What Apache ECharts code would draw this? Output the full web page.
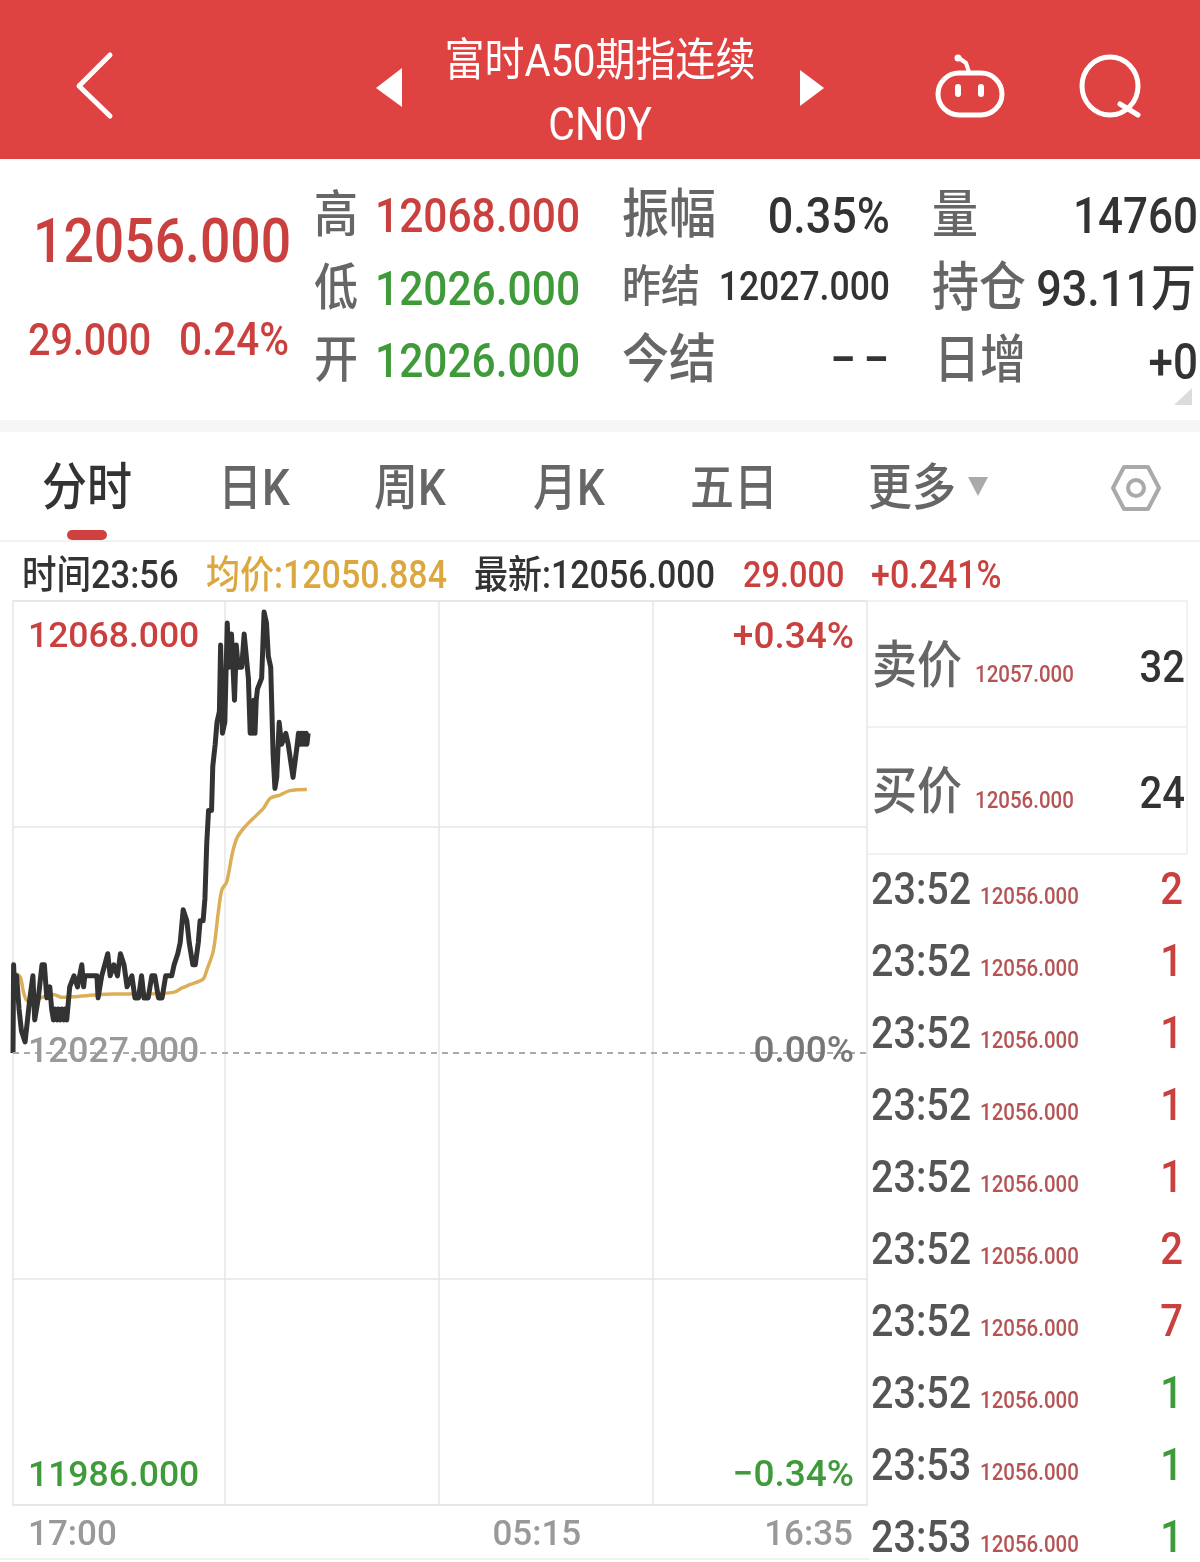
<!DOCTYPE html>
<html>
<head>
<meta charset="utf-8">
<style>
  html, body { margin: 0; padding: 0; background: #fff; }
  #chart { width: 1200px; height: 1562px; }
</style>
<script src="https://cdn.jsdelivr.net/npm/echarts@6/dist/echarts.min.js"></script>
</head>
<body>
<div id="chart"></div>
<script>
// trace, x is minutes after the 17:00 open
const priceMinutes = [0, 1, 3, 6, 10, 14, 20, 24, 28, 33, 36, 42, 48, 52, 56, 61, 64, 67, 70, 73, 75, 78, 81, 84, 86, 89, 94, 101, 107, 114, 117, 119, 139, 141, 147, 152, 157, 161, 167, 173, 178, 184, 189, 197, 202, 208, 213, 217, 224, 230, 235, 241, 247, 253, 263, 267, 273, 277, 282, 288, 292, 298, 302, 307, 310, 315, 318, 321, 324, 329, 331, 335, 338, 342, 344, 347, 351, 355, 358, 362, 367, 370, 373, 379, 383, 386, 390, 393, 395, 397, 399, 401, 403, 405, 412, 416, 420, 423, 427, 431, 434, 437, 441, 445, 452, 456, 464, 471, 473, 476, 478, 480, 482, 484, 486, 487, 489];
const prices = [12027, 12035, 12032, 12034, 12031, 12029, 12028, 12030, 12032, 12034, 12030, 12032, 12035, 12035, 12032, 12033, 12031, 12030, 12031, 12030, 12031, 12030, 12031, 12030, 12031, 12030, 12033, 12034, 12033, 12035, 12033, 12034, 12034, 12032, 12034, 12035, 12036, 12034, 12035, 12034, 12036, 12035, 12033, 12034, 12032, 12032, 12034, 12032, 12032, 12034, 12034, 12032, 12032, 12034, 12034, 12035, 12036, 12037, 12040, 12039, 12037, 12035, 12035, 12037, 12039, 12039, 12041, 12046, 12049, 12049, 12053, 12055, 12057, 12058, 12064, 12056, 12057, 12066, 12062, 12065, 12059, 12064, 12062, 12062, 12065, 12065, 12061, 12056, 12058, 12056, 12059, 12056, 12059, 12060, 12061, 12067, 12066, 12063, 12062, 12054, 12051, 12052, 12057, 12055, 12056, 12055, 12052, 12055, 12056, 12055, 12056, 12055, 12056, 12055, 12056, 12055, 12056];
const averageMinutes = [5, 12, 18, 25, 67, 81, 100, 144, 166, 210, 266, 280, 293, 315, 321, 332, 340, 346, 354, 363, 371, 384, 404, 415, 426, 442, 459, 487];
const averages = [12034.2, 12033.9, 12032.4, 12031.7, 12032.3, 12032.05, 12032.1, 12032.3, 12032.35, 12032.35, 12032.5, 12032.9, 12033.2, 12033.7, 12034.5, 12036.3, 12039.7, 12041.8, 12042.5, 12045, 12046.5, 12047.5, 12048.6, 12049.2, 12050.1, 12050.4, 12050.8, 12050.9];

const priceTicks = [11986, 12027, 12068];
const priceTickLabels = ['11986.000', '12027.000', '12068.000'];
const percentTicks = [-0.34, 0, 0.34];
const percentTickLabels = ['−0.34%', '0.00%', '+0.34%'];
const priceGridTicks = [11986, 12006.5, 12047.5, 12068];
const timeTicks = [0, 868, 1415];
const timeTickLabels = ['17:00', '05:15', '16:35'];
const timeGridTicks = [351.5, 706, 1060];

const tabs = ['日K', '周K', '月K', '五日', '更多'];
const tapeTimes = ['23:52', '23:52', '23:52', '23:52', '23:52', '23:52', '23:52', '23:52', '23:53', '23:53'];
const tapePrices = ['12056.000', '12056.000', '12056.000', '12056.000', '12056.000', '12056.000', '12056.000', '12056.000', '12056.000', '12056.000'];
const tapeVolumes = ['2', '1', '1', '1', '1', '2', '7', '1', '1', '1'];
const tapeUp = [true, true, true, true, true, true, true, false, false, false];

const RED = '#c9403f', GREEN = '#3f9a3a', DARK = '#333', GRAY = '#666', GOLD = '#dcae57', LINE = '#ececec';
const FONT = 'Roboto, "Noto Sans CJK SC", sans-serif';

// y is the visual centre, the scaled glyphs sit high otherwise
const txt = (x, y, text, size, fill, align, weight) => ({
  type: 'text', x, y: y + size * 0.12, scaleY: 1.13, silent: true,
  style: {
    text, fill, fontSize: size, fontFamily: FONT, fontWeight: weight || 500,
    textAlign: align || 'left', textVerticalAlign: 'middle'
  }
});
const poly = (points, fill) => ({ type: 'polygon', silent: true, shape: { points }, style: { fill } });
const stroke = (points, color, width) => ({
  type: 'polyline', silent: true, shape: { points },
  style: { stroke: color, lineWidth: width, fill: null, lineCap: 'round', lineJoin: 'round' }
});
const hline = (y, x1, x2, color) => ({
  type: 'line', silent: true, shape: { x1, y1: y, x2, y2: y }, style: { stroke: color, lineWidth: 1.5 }
});

const graphics = [
  // title bar
  { type: 'rect', silent: true, shape: { x: 0, y: 0, width: 1200, height: 159 }, style: { fill: '#de4341' } },
  stroke([[110, 55], [79, 86], [110, 116]], '#fff', 5),
  poly([[402, 68], [376, 88], [402, 107]], '#fff'),
  poly([[800, 70], [824, 88], [800, 106]], '#fff'),
  txt(600, 60, '富时A50期指连续', 40, '#fff', 'center', 'normal'),
  txt(600, 123, 'CN0Y', 41, '#fff', 'center', 'normal'),
  { type: 'rect', silent: true, shape: { x: 938, y: 73, width: 64, height: 42, r: 21 }, style: { stroke: '#fff', lineWidth: 5, fill: null } },
  { type: 'rect', silent: true, shape: { x: 955, y: 84, width: 6, height: 13, r: 3 }, style: { fill: '#fff' } },
  { type: 'rect', silent: true, shape: { x: 978, y: 84, width: 6, height: 13, r: 3 }, style: { fill: '#fff' } },
  stroke([[969, 72], [966, 63], [959, 58]], '#fff', 4),
  { type: 'circle', silent: true, shape: { cx: 958, cy: 58, r: 3.5 }, style: { fill: '#fff' } },
  { type: 'ellipse', silent: true, shape: { cx: 1110, cy: 86, rx: 28, ry: 29 }, style: { stroke: '#fff', lineWidth: 5, fill: null } },
  stroke([[1120, 104], [1138, 115]], '#fff', 5),

  // quote block
  txt(33, 240, '12056.000', 53.5, RED),
  txt(28, 339, '29.000', 39.5, RED),
  txt(179, 339, '0.24%', 40.5, RED),
  txt(314, 214, '高', 44, GRAY),
  txt(375, 215, '12068.000', 42.5, RED),
  txt(314, 287, '低', 44, GRAY),
  txt(375, 288, '12026.000', 42.5, GREEN),
  txt(314, 359, '开', 44, GRAY),
  txt(375, 360, '12026.000', 42.5, GREEN),
  txt(622, 214, '振幅', 47, GRAY),
  txt(890, 215, '0.35%', 45, DARK, 'right'),
  txt(622, 286, '昨结', 39, GRAY),
  txt(890, 286, '12027.000', 35.5, DARK, 'right'),
  txt(622, 359, '今结', 47, GRAY),
  txt(888, 359, '– –', 38, DARK, 'right', 'bold'),
  txt(932, 214, '量', 46, GRAY),
  txt(1198, 215, '14760', 44, DARK, 'right'),
  txt(932, 287, '持仓', 47, GRAY),
  txt(1196, 288, '93.11万', 45, DARK, 'right'),
  txt(934, 359, '日增', 46, GRAY),
  txt(1198, 361, '+0', 44, DARK, 'right'),
  poly([[1192, 388], [1192, 405], [1174, 405]], '#dcdcdc'),
  { type: 'rect', silent: true, shape: { x: 0, y: 420, width: 1200, height: 12 }, style: { fill: '#f6f6f6' } },

  // tab row
  txt(42, 487, '分时', 45, DARK),
  txt(218, 487, tabs[0], 44, GRAY),
  txt(374, 487, tabs[1], 44, GRAY),
  txt(533, 487, tabs[2], 44, GRAY),
  txt(690, 487, tabs[3], 44, GRAY),
  txt(868, 487, tabs[4], 44, GRAY),
  poly([[968, 477], [988, 477], [978, 496]], '#aaa'),
  { type: 'polygon', silent: true, shape: { points: [[1124, 467], [1148, 467], [1159, 488], [1148, 509], [1124, 509], [1113, 488]] }, style: { stroke: '#aaa', lineWidth: 4, fill: null, lineJoin: 'round' } },
  { type: 'circle', silent: true, shape: { cx: 1136, cy: 488, r: 8 }, style: { stroke: '#aaa', lineWidth: 4, fill: null } },
  { type: 'rect', silent: true, shape: { x: 67, y: 530, width: 40, height: 10, r: 5 }, style: { fill: '#cf4140' } },
  hline(541, 0, 1200, LINE),

  // readout above the plot
  txt(22, 574, '时间23:56', 34.5, DARK),
  txt(206, 574, '均价:12050.884', 34, '#dca73f'),
  txt(474, 574, '最新:12056.000', 34, DARK),
  txt(743, 574, '29.000', 32.5, RED),
  txt(871, 574, '+0.241%', 34, RED),

  // order book panel
  hline(601, 867, 1187, LINE),
  hline(727, 867, 1187, LINE),
  hline(854, 867, 1187, LINE),
  hline(1559, 0, 870, LINE),
  { type: 'line', silent: true, shape: { x1: 1187, y1: 601, x2: 1187, y2: 854 }, style: { stroke: LINE, lineWidth: 1.5 } },
  txt(872, 665, '卖价', 45, GRAY),
  txt(975, 674, '12057.000', 20.5, '#b55454'),
  txt(1185, 666, '32', 40, DARK, 'right'),
  txt(872, 791, '买价', 45, GRAY),
  txt(975, 800, '12056.000', 20.5, '#b55454'),
  txt(1185, 792, '24', 40, DARK, 'right')
];

tapeTimes.forEach((t, i) => {
  const y = 888 + i * 72;
  graphics.push(txt(871, y, t, 39.5, '#555'));
  graphics.push(txt(980, y + 8, tapePrices[i], 20.5, '#b55454'));
  graphics.push(txt(1183, y, tapeVolumes[i], 40, tapeUp[i] ? RED : GREEN, 'right'));
});

// the labels sit inside the plot, so top and bottom ones need their own nudge
const priceRich = {
  top: { color: RED, fontSize: 35.5, fontWeight: 500, fontFamily: FONT, padding: [19, 0, 0, 0] },
  mid: { color: '#999', fontSize: 35.5, fontWeight: 500, fontFamily: FONT, padding: [0, 0, 0, 0] },
  bot: { color: GREEN, fontSize: 35.5, fontWeight: 500, fontFamily: FONT, padding: [0, 0, 10, 0] }
};
const percentRich = {
  top: { color: RED, fontSize: 37, fontWeight: 500, fontFamily: FONT, padding: [19, 0, 0, 0] },
  mid: { color: '#777', fontSize: 37, fontWeight: 500, fontFamily: FONT, padding: 0 },
  bot: { color: GREEN, fontSize: 37, fontWeight: 500, fontFamily: FONT, padding: [0, 0, 10, 0] }
};
const richKey = (ticks, v) => ['bot', 'mid', 'top'][ticks.indexOf(v)];

const myChart = echarts.init(document.getElementById('chart'));
myChart.setOption({
  animation: false,
  backgroundColor: '#fff',
  textStyle: { fontFamily: FONT },
  grid: { left: 13, right: 333, top: 601, height: 904, show: true, borderColor: '#e6e6e6', borderWidth: 1.5, backgroundColor: 'transparent' },
  xAxis: [
    {
      type: 'value', min: 0, max: 1415,
      axisLine: { show: false }, axisTick: { show: false }, splitLine: { show: false },
      axisLabel: {
        customValues: timeTicks,
        margin: 14,
        alignMinLabel: 'left',
        alignMaxLabel: 'right',
        formatter: v => {
          const label = timeTickLabels[timeTicks.indexOf(v)];
          return v === 0 ? '{l|' + label + '}' : v === 1415 ? '{r|' + label + '}' : '{c|' + label + '}';
        },
        rich: {
          l: { color: '#999', fontSize: 35, fontWeight: 500, fontFamily: FONT, padding: [0, 0, 0, 15] },
          c: { color: '#999', fontSize: 35, fontWeight: 500, fontFamily: FONT },
          r: { color: '#999', fontSize: 35, fontWeight: 500, fontFamily: FONT, padding: [0, 14, 0, 0] }
        }
      }
    },
    {
      type: 'value', min: 0, max: 1415, position: 'top',
      axisLine: { show: false }, axisTick: { show: false, customValues: timeGridTicks },
      axisLabel: { show: false, customValues: timeGridTicks },
      splitLine: { show: true, lineStyle: { color: '#e6e6e6', width: 1.5 } }
    }
  ],
  yAxis: [
    {
      type: 'value', min: 11986, max: 12068, z: 5,
      axisLine: { show: false }, axisTick: { show: false }, splitLine: { show: false },
      axisLabel: {
        inside: true, margin: 15, customValues: priceTicks,
        verticalAlignMinLabel: 'bottom', verticalAlignMaxLabel: 'top',
        formatter: v => '{' + richKey(priceTicks, v) + '|' + priceTickLabels[priceTicks.indexOf(v)] + '}',
        rich: priceRich
      }
    },
    {
      type: 'value', min: -0.34, max: 0.34, position: 'right', z: 5,
      axisLine: { show: false }, axisTick: { show: false }, splitLine: { show: false },
      axisLabel: {
        inside: true, margin: 13, customValues: percentTicks,
        verticalAlignMinLabel: 'bottom', verticalAlignMaxLabel: 'top',
        formatter: v => '{' + richKey(percentTicks, v) + '|' + percentTickLabels[percentTicks.indexOf(v)] + '}',
        rich: percentRich
      }
    },
    {
      type: 'value', min: 11986, max: 12068, offset: 0,
      axisLine: { show: false }, axisTick: { show: false, customValues: priceGridTicks },
      axisLabel: { show: false, customValues: priceGridTicks },
      splitLine: { show: true, lineStyle: { color: '#e6e6e6', width: 1.5 } }
    }
  ],
  series: [
    {
      name: '均价', type: 'line', showSymbol: false, z: 3, smooth: 0.3,
      data: averageMinutes.map((m, i) => [m, averages[i]]),
      lineStyle: { color: GOLD, width: 3.5 }
    },
    {
      name: '最新', type: 'line', showSymbol: false, z: 4,
      data: priceMinutes.map((m, i) => [m, prices[i]]),
      lineStyle: { color: '#333', width: 5, join: 'round' },
      markLine: {
        silent: true, symbol: 'none', label: { show: false },
        lineStyle: { color: '#aaa', type: [6, 5], width: 2 },
        data: [{ yAxis: 12027 }]
      }
    }
  ],
  graphic: { elements: graphics }
});

window.addEventListener('resize', () => {
  myChart.resize();
});
</script>
</body>
</html>
